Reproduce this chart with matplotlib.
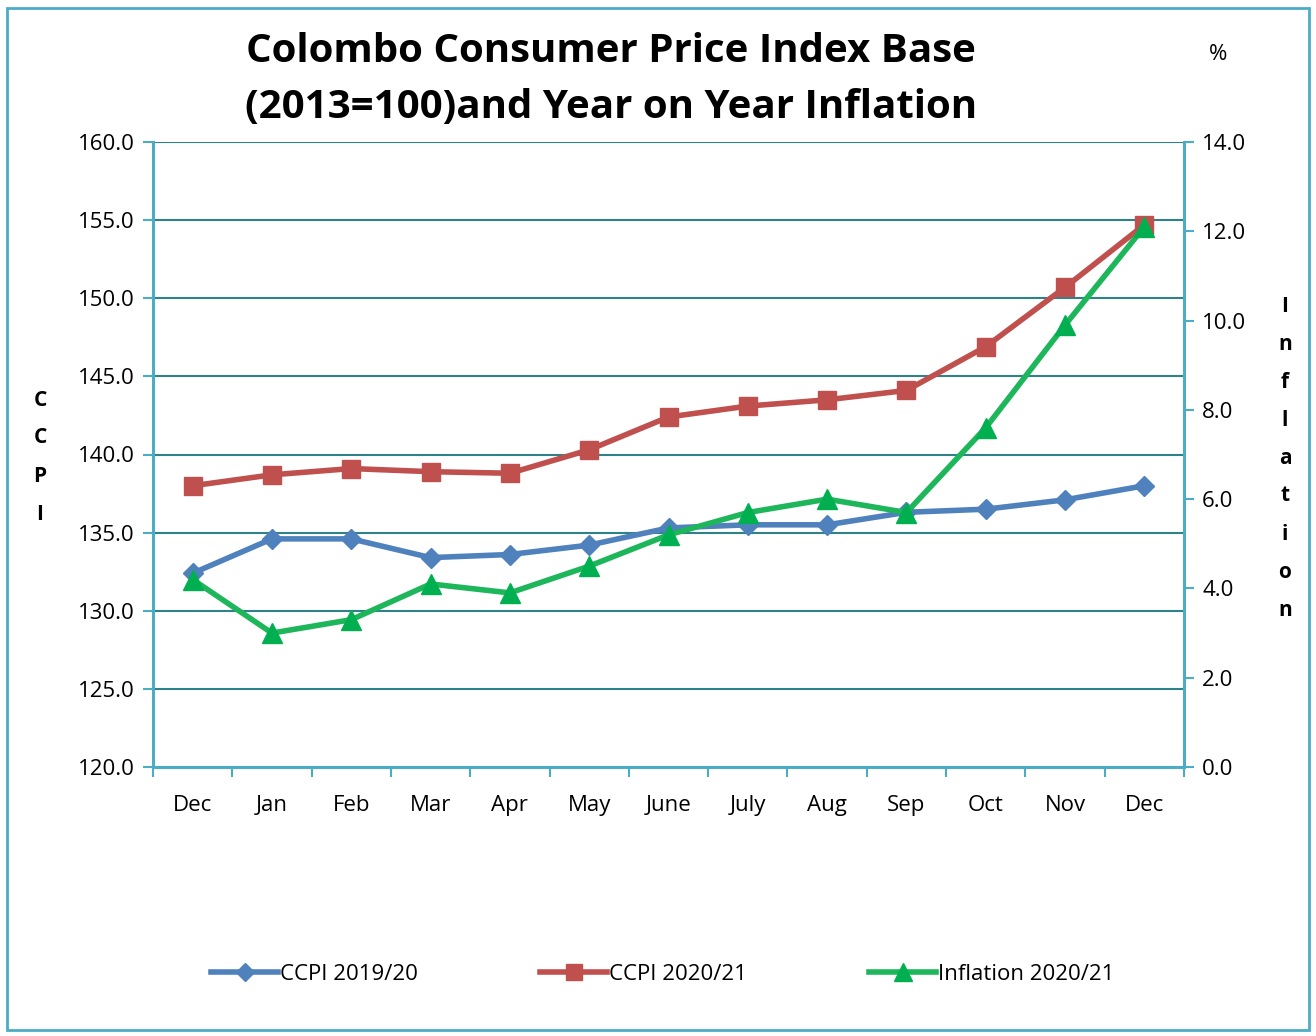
import numpy as np
import matplotlib.pyplot as plt
from matplotlib.patches import Rectangle

months = ['Dec', 'Jan', 'Feb', 'Mar', 'Apr', 'May', 'June', 'July', 'Aug', 'Sep', 'Oct', 'Nov', 'Dec']
ccpi_1920 = [132.4, 134.6, 134.6, 133.4, 133.6, 134.2, 135.3, 135.5, 135.5, 136.3, 136.5, 137.1, 138.0]
ccpi_2021 = [138.0, 138.7, 139.1, 138.9, 138.8, 140.3, 142.4, 143.1, 143.5, 144.1, 146.9, 150.7, 154.7]
inflation_2021 = [4.2, 3.0, 3.3, 4.1, 3.9, 4.5, 5.2, 5.7, 6.0, 5.7, 7.6, 9.9, 12.1]

W, H = 1316, 1036
plt.rcParams['font.family'] = ['Open Sans', 'DejaVu Sans']
fig = plt.figure(figsize=(W / 100, H / 100), dpi=100)

frame = '#4BACC6'
gridc = '#2E8288'

fig.patches.append(Rectangle((7 / W, 6 / H), 1302 / W, 1022 / H, transform=fig.transFigure,
                             fill=False, edgecolor=frame, linewidth=2))

ax = fig.add_axes([153 / W, 1 - 767 / H, 1031 / W, 625 / H])
ax2 = ax.twinx()

x = np.arange(len(months))
ax.plot(x, ccpi_1920, color='#4F81BD', lw=4, marker='D', ms=10, label='CCPI 2019/20', zorder=3)
ax.plot(x, ccpi_2021, color='#C0504D', lw=4, marker='s', ms=13, label='CCPI 2020/21', zorder=3)
ax2.plot(x, inflation_2021, color='#1DB65A', lw=4, marker='^', ms=15, mfc='#00B050', mec='#00B050',
         label='Inflation 2020/21', zorder=3)

ax.set_xlim(-0.5, 12.5)
ax.set_ylim(120, 160)
ax2.set_ylim(0, 14)
ax.set_yticks(np.arange(120, 161, 5))
ax.set_yticklabels([f'{v:.1f}' for v in np.arange(120, 161, 5)])
ax2.set_yticks(np.arange(0, 15, 2))
ax2.set_yticklabels([f'{v:.1f}' for v in np.arange(0, 15, 2)])
ax.set_xticks(x)
ax.set_xticklabels(months)
ax.set_xticks(np.arange(-0.5, 13, 1), minor=True)
ax.tick_params(axis='x', which='major', length=0, pad=20, labelsize=16)
ax.tick_params(axis='x', which='minor', length=7, color=frame, width=1.5)
ax.tick_params(axis='y', length=7, color=frame, width=1.5, labelsize=16, pad=6)
ax2.tick_params(axis='y', length=7, color=frame, width=1.5, labelsize=16, pad=6)

ax.yaxis.grid(True, color=gridc, lw=1.5)
ax.set_axisbelow(True)
for a in (ax, ax2):
    a.spines['top'].set_visible(False)
    for s in ('left', 'right', 'bottom'):
        a.spines[s].set_color(frame)
        a.spines[s].set_linewidth(2)

fig.text(611 / W, 1 - 52 / H, 'Colombo Consumer Price Index Base', ha='center', va='center',
         fontsize=29, fontweight='bold')
fig.text(611 / W, 1 - 108 / H, '(2013=100)and Year on Year Inflation', ha='center', va='center',
         fontsize=29, fontweight='bold')
fig.text(1218 / W, 1 - 55 / H, '%', ha='center', va='center', fontsize=16)

for i, ch in enumerate('CCPI'):
    fig.text(40 / W, 1 - (400 + i * 38) / H, ch, ha='center', va='center', fontsize=15, fontweight='bold')
for i, ch in enumerate('Inflation'):
    fig.text(1285 / W, 1 - (306 + i * 38) / H, ch, ha='center', va='center', fontsize=15, fontweight='bold')

h1, l1 = ax.get_legend_handles_labels()
h2, l2 = ax2.get_legend_handles_labels()
fig.legend(h1 + h2, l1 + l2, loc='center', bbox_to_anchor=(663 / W, 1 - 974 / H), ncol=3,
           frameon=False, fontsize=16, handlelength=3, handletextpad=0.1, columnspacing=5.5,
           markerscale=0.9)

fig.savefig('out.png', dpi=100)
